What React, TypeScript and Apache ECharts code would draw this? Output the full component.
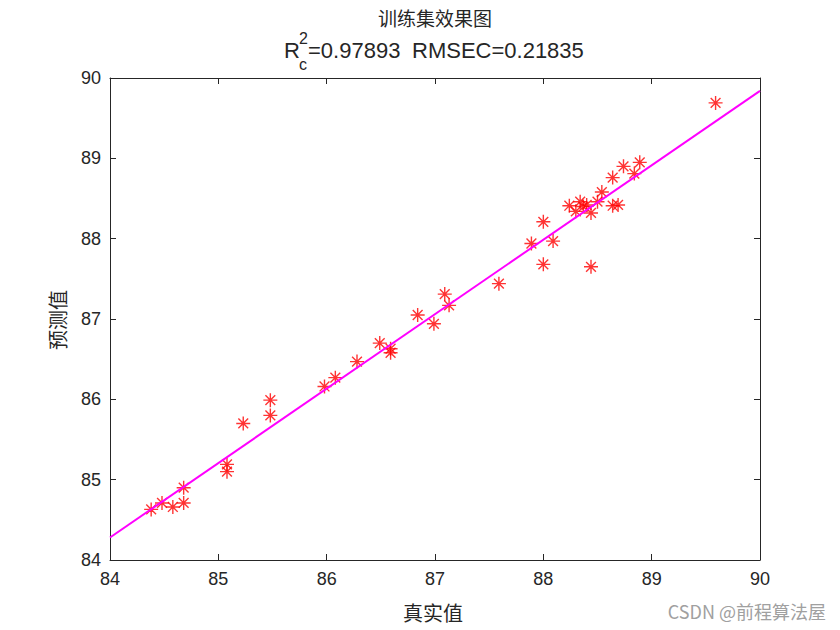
import React, { useEffect, useRef } from "react";
import * as echarts from "echarts";

const actualValues: number[] = [
  84.38, 84.48, 84.58, 84.68, 84.68, 85.08, 85.08, 85.23, 85.48, 85.48,
  85.98, 86.08, 86.28, 86.49, 86.59, 86.59, 86.84, 86.99, 87.09, 87.13,
  87.59, 87.89, 88.0, 88.0, 88.09, 88.24, 88.3, 88.34, 88.37, 88.4,
  88.44, 88.44, 88.5, 88.54, 88.64, 88.69, 88.64, 88.74, 88.84, 88.89,
  89.59,
];
const predictedValues: number[] = [
  84.63, 84.71, 84.66, 84.71, 84.9, 85.19, 85.1, 85.7, 85.99, 85.8,
  86.16, 86.27, 86.47, 86.7, 86.63, 86.58, 87.05, 86.94, 87.31, 87.17,
  87.44, 87.94, 88.21, 87.68, 87.97, 88.41, 88.34, 88.46, 88.4, 88.42,
  88.32, 87.65, 88.46, 88.58, 88.41, 88.42, 88.76, 88.9, 88.81, 88.95,
  89.69,
];
// Fitted line endpoints
const fitLineX: number[] = [84, 90];
const fitLineY: number[] = [84.28, 89.84];

const axisTicks: number[] = [84, 85, 86, 87, 88, 89, 90];

const titleLine1 = "训练集效果图";
const xLabel = "真实值";
const yLabel = "预测值";
const watermark = "CSDN @前程算法屋";

const TXT = "#262626";
const CJK = "'Noto Sans CJK SC', sans-serif";
const LAT = "'Liberation Sans', Arial, sans-serif";

export default function App() {
  const ref = useRef<HTMLDivElement>(null);
  useEffect(() => {
    if (!ref.current) return;
    const chart = echarts.init(ref.current, undefined, { renderer: "svg" });
    const minV = axisTicks[0];
    const maxV = axisTicks[axisTicks.length - 1];
    const axisCommon = {
      type: "value" as const,
      min: minV,
      max: maxV,
      interval: 1,
      splitLine: { show: false },
      axisLine: { show: true, onZero: false, lineStyle: { color: TXT, width: 1 } },
      axisTick: { show: true, inside: true, length: 6, lineStyle: { color: TXT } },
    };
    const labelStyle = { color: TXT, fontSize: 18, fontFamily: LAT, margin: 10 };
    const scatterData = actualValues.map((x, i) => [x, predictedValues[i]]);
    const lineData = fitLineX.map((x, i) => [x, fitLineY[i]]);
    chart.setOption({
      animation: false,
      backgroundColor: "#ffffff",
      grid: { left: 110, top: 78, width: 650, height: 482, containLabel: false },
      xAxis: [
        { ...axisCommon, position: "bottom", axisLabel: { ...labelStyle } },
        { ...axisCommon, position: "top", axisLabel: { show: false } },
      ],
      yAxis: [
        { ...axisCommon, position: "left", axisLabel: { ...labelStyle, margin: 9 } },
        { ...axisCommon, position: "right", axisLabel: { show: false } },
      ],
      series: [
        {
          type: "scatter",
          xAxisIndex: 0,
          yAxisIndex: 0,
          data: scatterData,
          symbol: "path://M0,-10L0,10M-10,0L10,0M-7,-7L7,7M-7,7L7,-7",
          symbolSize: 14,
          itemStyle: { color: "#ff0000", borderColor: "#ff0000", borderWidth: 1.4 },
        },
        {
          type: "line",
          xAxisIndex: 0,
          yAxisIndex: 0,
          data: lineData,
          showSymbol: false,
          symbol: "none",
          lineStyle: { color: "#ff00ff", width: 2 },
        },
      ],
      graphic: [
        {
          type: "text",
          x: 435,
          y: 17,
          style: { text: titleLine1, font: `19px ${CJK}`, fill: TXT, align: "center", verticalAlign: "middle" },
        },
        {
          type: "text",
          x: 284,
          y: 50,
          style: { text: "R", font: `22px ${LAT}`, fill: TXT, align: "left", verticalAlign: "middle" },
        },
        {
          type: "text",
          x: 299,
          y: 38,
          style: { text: "2", font: `16px ${LAT}`, fill: TXT, align: "left", verticalAlign: "middle" },
        },
        {
          type: "text",
          x: 299,
          y: 64,
          style: { text: "c", font: `16px ${LAT}`, fill: TXT, align: "left", verticalAlign: "middle" },
        },
        {
          type: "text",
          x: 308,
          y: 50,
          style: { text: "=0.97893", font: `22px ${LAT}`, fill: TXT, align: "left", verticalAlign: "middle" },
        },
        {
          type: "text",
          x: 412,
          y: 50,
          style: { text: "RMSEC=0.21835", font: `22px ${LAT}`, fill: TXT, align: "left", verticalAlign: "middle" },
        },
        {
          type: "text",
          x: 433,
          y: 612,
          style: { text: xLabel, font: `20px ${CJK}`, fill: TXT, align: "center", verticalAlign: "middle" },
        },
        {
          type: "text",
          x: 57,
          y: 320,
          rotation: Math.PI / 2,
          style: { text: yLabel, font: `20px ${CJK}`, fill: TXT, align: "center", verticalAlign: "middle" },
        },
        {
          type: "text",
          x: 826,
          y: 611,
          style: { text: watermark, font: `18px ${CJK}`, fill: "#a0a0a0", align: "right", verticalAlign: "middle" },
        },
      ],
    });
    return () => chart.dispose();
  }, []);
  return (
    <div
      ref={ref}
      style={{ position: "fixed", left: 0, top: 0, width: 840, height: 630, background: "#fff" }}
    />
  );
}
